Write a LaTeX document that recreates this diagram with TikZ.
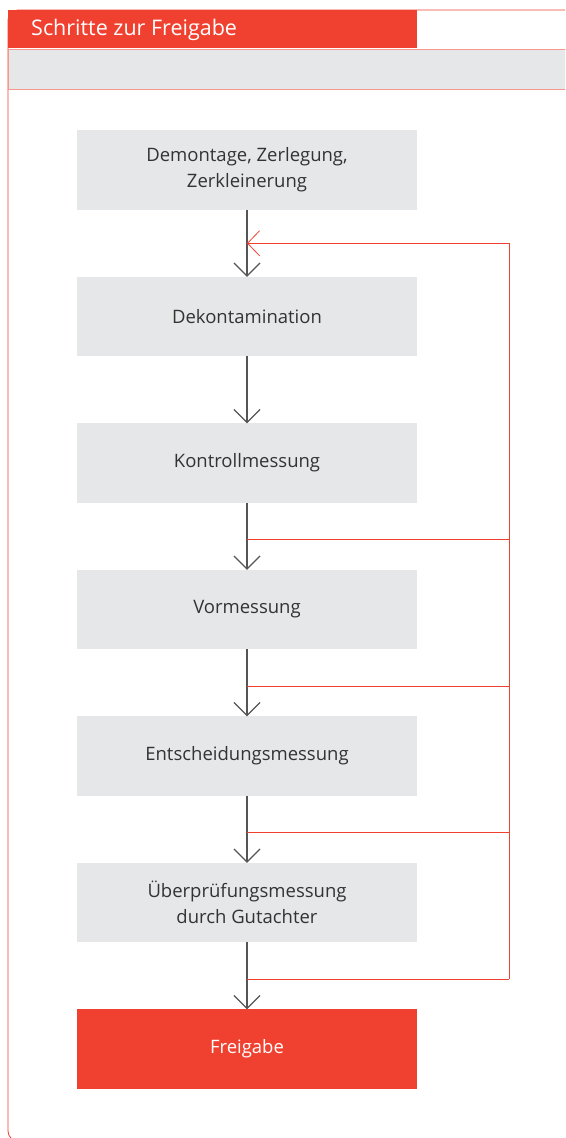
\documentclass[tikz,border=0pt]{standalone}
\usepackage{fontspec}
\setmainfont{Open Sans}
\usetikzlibrary{calc, positioning, arrows.meta}

\definecolor{freired}{HTML}{F04130}
\definecolor{boxgrey}{HTML}{E6E7E8}
\definecolor{linegrey}{HTML}{555555}
\definecolor{textgrey}{HTML}{333333}

\tikzset{
  stepbox/.style={fill=boxgrey, text=textgrey, minimum width=340pt, minimum height=79.5pt,
    align=center, inner sep=0pt, outer sep=0pt, font=\fontsize{18.5}{26}\selectfont},
  flow/.style={draw=linegrey, line width=1.1pt,
    -{Straight Barb[length=13pt,width=26pt]}},
  back/.style={draw=freired, line width=0.8pt},
}

\begin{document}
\begin{tikzpicture}[x=1pt, y=-1pt, node distance=67pt]
 \useasboundingbox (0,0) rectangle (565,1138);
 \clip (0,0) rectangle (565,1138);

 % frame and header
 \draw [freired, line width=0.8pt, rounded corners=10pt] (8,10) rectangle (575,1141);
 \fill [freired] (8,10) rectangle (417,48);
 \node [anchor=west, text=white, inner sep=0pt, font=\fontsize{21.5}{26}\selectfont] (title) at (31,30)
  {Schritte zur Freigabe};
 \filldraw [fill=boxgrey, draw=freired!55, line width=0.8pt] (8,49) rectangle (585,89);

 % steps
 \node [stepbox] (demontage) at (247,170) {Demontage, Zerlegung,\\Zerkleinerung};
 \node [stepbox, below=of demontage] (dekont) {Dekontamination};
 \node [stepbox, below=of dekont] (kontroll) {Kontrollmessung};
 \node [stepbox, below=of kontroll] (vormess) {Vormessung};
 \node [stepbox, below=of vormess] (entscheid) {Entscheidungsmessung};
 \node [stepbox, below=of entscheid] (pruef) {Überprüfungsmessung\\durch Gutachter};
 \node [stepbox, below=of pruef, fill=freired, text=white] (freigabe) {Freigabe};

 \foreach \a/\b in {demontage/dekont, dekont/kontroll, kontroll/vormess,
   vormess/entscheid, entscheid/pruef, pruef/freigabe}
  \draw [flow] (\a) -- (\b);

 % feedback loop
 \coordinate (rail) at (509,0);
 \coordinate (jtop) at ($(demontage.south)!0.5!(dekont.north)$);
 \foreach \a/\b in {kontroll/vormess, vormess/entscheid, entscheid/pruef, pruef/freigabe}
 {
  \coordinate (j-\a) at ($(\a.south)!0.55!(\b.north)$);
  \draw [back] (j-\a) -- (j-\a -| rail);
 }
 \draw [back, -{Straight Barb[length=12pt,width=25pt]}]
  (j-pruef -| rail) -- (jtop -| rail) -- (jtop);
\end{tikzpicture}
\end{document}
